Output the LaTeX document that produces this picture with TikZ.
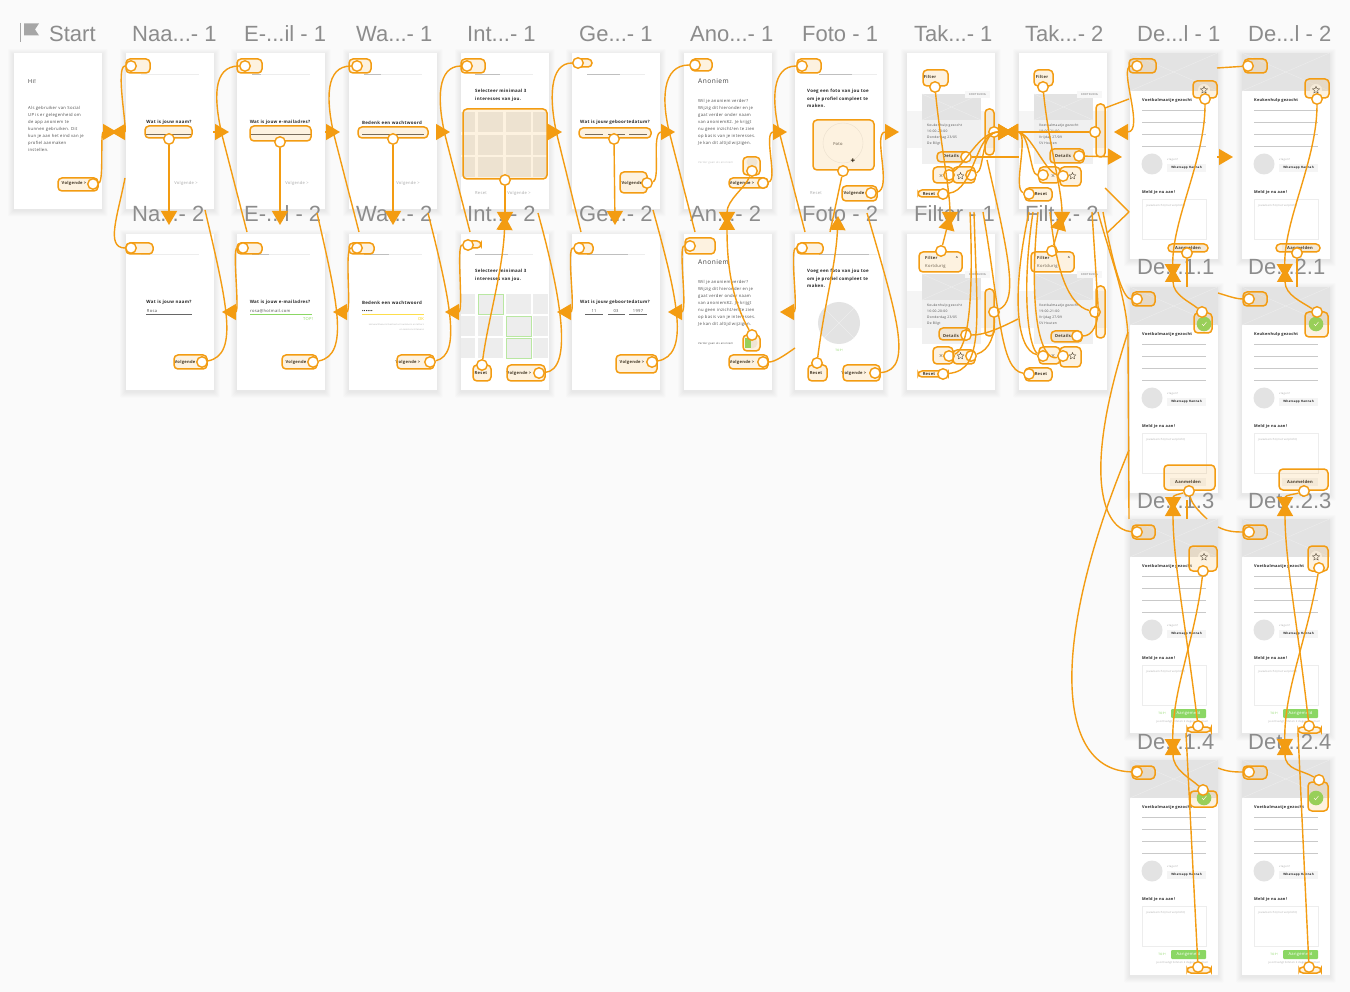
\documentclass[tikz,border=0pt]{standalone}
\usepackage{fontspec}
\setmainfont[LetterSpace=7]{Open Sans}
\newfontfamily\labelfont{Liberation Sans}
\usetikzlibrary{arrows.meta,shapes.geometric}
\definecolor{hot}{HTML}{F39C12}
\definecolor{paper}{HTML}{FAFAFA}
\definecolor{labelgray}{HTML}{8C8C8C}
\definecolor{imggray}{HTML}{E3E3E3}
\definecolor{imgline}{HTML}{EDEDED}
\definecolor{rulegray}{HTML}{C9C9C9}
\definecolor{okgreen}{HTML}{8BD764}
\definecolor{softtext}{HTML}{A8A8A8}
\newcommand{\dd}{...}
\tikzset{
  screen/.style={fill=white,anchor=north west,minimum width=87.5pt,inner sep=0pt,outer sep=0pt},
  title/.style={font=\labelfont\fontsize{22}{22}\selectfont,text=labelgray,anchor=base west,inner sep=0pt},
  qtext/.style={font=\bfseries\fontsize{4.4}{7.6}\selectfont,text=black!85,inner sep=0pt,align=left},
  jobtext/.style={font=\bfseries\fontsize{3.9}{5}\selectfont,text=black!85,inner sep=0pt,anchor=west},
  bodytext/.style={font=\fontsize{4.2}{7}\selectfont,text=black!70,inner sep=0pt,align=left,anchor=north west},
  softbtn/.style={font=\fontsize{4.1}{5}\selectfont,text=softtext,inner sep=0pt},
  btntext/.style={font=\bfseries\fontsize{4.1}{5}\selectfont,text=black!85,inner sep=0pt},
  cardtext/.style={font=\fontsize{3.3}{6}\selectfont,text=black!70,inner sep=0pt,align=left,anchor=north west},
  tinytext/.style={font=\fontsize{2.7}{4}\selectfont,text=softtext,inner sep=0pt},
  hotspot/.style={draw=hot,fill=hot,fill opacity=.13,line width=1.5pt,rounded corners=4pt,
    anchor=north west,inner sep=0pt,outer sep=0pt},
  dot/.style={circle,draw=hot,fill=white,line width=1.4pt,minimum size=10.5pt,inner sep=0pt},
  link/.style={draw=hot,line width=1.4pt},
  arrowlink/.style={link,-{Triangle[length=14pt,width=16pt]}},
}
% soft shadow under a screen: x, y, height
\newcommand{\softshadow}[3]{%
  \foreach \s in {1,2,3,4,5,6}{
    \fill[black,opacity=.011,rounded corners=1pt] (#1-\s,#2-\s+2) rectangle (#1+87.5+\s,#2+#3+\s+1.5);
  }
}
% one job screen, top left at #2,#3
\newcommand{\jobscreen}[6]{%
  \softshadow{#2}{#3}{#4}
  \node[screen,minimum height=#4] (#1) at (#2,#3) {};
  \begin{scope}[shift={(#2,#3)}]
    \fill[imggray] (0,0) rectangle (87.5,38);
    \draw[imgline,line width=.4pt] (0,0) -- (87.5,38) (0,38) -- (87.5,0);
    \node[jobtext] (#1title) at (12,47.5) {#5};
    \foreach \ly in {57,69,81,93}{\draw[rulegray,line width=.6pt] (12,\ly) -- (76,\ly);}
    \fill[imggray] (22,111) circle (10.5);
    \node[tinytext,anchor=west] (#1ask) at (37,107) {vragen?};
    \fill[black!4] (37,111) rectangle (76,119);
    \node[btntext,font=\bfseries\fontsize{3}{4}\selectfont] (#1app) at (56.5,115) {Whatsapp Hannah};
    \node[jobtext] (#1meld) at (12,139.5) {Meld je nu aan!};
    \draw[black!7,line width=.4pt] (12,146) rectangle (76,186);
    \node[tinytext,anchor=west] (#1msg) at (16,153) {jouw bericht (niet verplicht)};
    \ifnum#6=0
      \fill[black!4] (40,191) rectangle (76,199);
      \node[btntext] (#1send) at (58,195) {Aanmelden};
    \else
      \fill[okgreen,rounded corners=1pt] (41,190) rectangle (76,199);
      \node[btntext,text=white,font=\fontsize{4.1}{5}\selectfont] (#1send) at (58.5,194.5) {Aangemeld};
      \node[tinytext,text=okgreen,font=\fontsize{3}{4}\selectfont] (#1top) at (32,194.5) {TOP!};
      \node[tinytext] (#1note) at (52,203) {je ontvangt binnen 2 dagen een mail};
    \fi
  \end{scope}
}
% one overview screen with a card, content starts at #2,#3
\newcommand{\cardscreen}[6]{%
  \begin{scope}[shift={(#2,#3)}]
    \fill[black!4] (0,58) rectangle (87.5,95);
    \fill[black!6] (15,41) rectangle (74,111);
    \fill[imggray] (15,41) rectangle (74,67);
    \draw[imgline,line width=.4pt] (15,41) -- (74,67) (15,67) -- (74,41);
    \fill[black!3] (58,38) rectangle (83,45);
    \node[tinytext,text=black!60] (#1kind) at (70.5,42) {KORTDURIG};
    \node[cardtext] (#1card) at (20,70.5) {#4\\#5\\#6};
  \end{scope}
}
\begin{document}
\begin{tikzpicture}[x=1pt,y=-1pt]
  \useasboundingbox (0,0) rectangle (1350,992);
  \fill[paper] (0,0) rectangle (1350,992);

  % screens
  \foreach \n/\x/\y in {start/14/53,naam1/126/53,email1/237/53,wacht1/349/53,int1/461/53,ge1/572/53,ano1/684/53,foto1/795/53,tak1/907/53,tak2/1019/53,
    naam2/126/234,email2/237/234,wacht2/349/234,int2/461/234,ge2/572/234,ano2/684/234,foto2/795/234,filter1/907/234,filter2/1019/234}{
    \softshadow{\x}{\y}{156}
    \node[screen,minimum height=156pt] (\n) at (\x,\y) {};
  }
  \jobscreen{de1a}{1130}{53}{206}{Voetbalmaatje gezocht}{0}
  \jobscreen{de2a}{1242}{53}{206}{Keukenhulp gezocht}{0}
  \jobscreen{de1b}{1130}{287}{206}{Voetbalmaatje gezocht}{0}
  \jobscreen{de2b}{1242}{287}{206}{Keukenhulp gezocht}{0}
  \jobscreen{de1c}{1130}{519}{214}{Voetbalmaatje gezocht}{1}
  \jobscreen{de2c}{1242}{519}{214}{Voetbalmaatje gezocht}{1}
  \jobscreen{de1d}{1130}{760}{215}{Voetbalmaatje gezocht}{1}
  \jobscreen{de2d}{1242}{760}{215}{Voetbalmaatje gezocht}{1}

  % start screen
  \node[font=\fontsize{5.5}{6}\selectfont,text=black!80,inner sep=0pt,anchor=west] (hi) at (28,81.5) {Hi!};
  \node[bodytext] (intro) at (28,106) {Als gebruiker van Social\\UP is er gelegenheid om\\de app anoniem te\\kunnen gebruiken. Dit\\kun je aan het eind van je\\profiel aanmaken\\instellen.};
  \node[btntext] (startnext) at (74,183) {Volgende >};

  % progress lines
  \foreach \a/\x/\y/\w in {1/141/74/0,2/252/74/9,3/364/74/17,4/475/74/25,5/587/74/33,6/819/74/33,7/141/254/0,8/252/254/17,9/364/254/25,10/475/254/33,11/587/254/41,12/819/254/50}{
    \draw[black!7,line width=.6pt] (\x,\y) -- +(58,0);
    \draw[black!25,line width=.6pt] (\x,\y) -- +(\w,0);
  }

  % questions
  \foreach \n/\x/\y/\t in {q1/169/122.5/Wat is jouw naam?,q2/280/122.5/Wat is jouw e-mailadres?,q3/392/122.5/Bedenk een wachtwoord,q4/615/122.5/Wat is jouw geboortedatum?,
    q5/169/302.5/Wat is jouw naam?,q6/280/302.5/Wat is jouw e-mailadres?,q7/392/302.5/Bedenk een wachtwoord,q8/615/302.5/Wat is jouw geboortedatum?}{
    \node[qtext] (\n) at (\x,\y) {\t};
  }
  \node[qtext,anchor=north west] (q9) at (475,89) {Selecteer minimaal 3\\interesses van jou.};
  \node[qtext,anchor=north west] (q10) at (475,269) {Selecteer minimaal 3\\interesses van jou.};
  \node[qtext,anchor=north west] (q11) at (807,89) {Voeg een foto van jou toe\\om je profiel compleet te\\maken.};
  \node[qtext,anchor=north west] (q12) at (807,269) {Voeg een foto van jou toe\\om je profiel compleet te\\maken.};

  % input lines
  \foreach \xa/\xb/\y/\c in {146/192/134/black!60,250/311/134/black!60,362/424/134/black!60,585/603/134/black!60,608/625/134/black!60,629/647/134/black!60,
    146/192/314/black!60,250/312/314/okgreen,362/424/314/yellow!70!orange!70,585/603/314/black!60,608/625/314/black!60,629/647/314/black!60}{
    \draw[\c,line width=.5pt] (\xa,\y) -- (\xb,\y);
  }
  \node[softbtn,text=black!70] (inrosa) at (152,311) {Rosa};
  \node[softbtn,text=black!70,anchor=west] (inmail) at (250,311) {rosa@hotmail.com};
  \node[softbtn,text=okgreen] (intop) at (308,319) {TOP!};
  \node[btntext,anchor=west,font=\bfseries\fontsize{4}{5}\selectfont] (inpass) at (362,311) {••••••};
  \node[softbtn,text=yellow!70!orange] (inok) at (421,319) {OK};
  \node[tinytext,align=right,anchor=north east,font=\fontsize{2.2}{4.4}\selectfont] (inhint) at (424,324) {Het wachtwoord bestaat uit nummers en letters\\en minstens 8 tekens};
  \node[softbtn,text=black!70] (inday) at (594,311) {11};
  \node[softbtn,text=black!70] (inmonth) at (616,311) {03};
  \node[softbtn,text=black!70] (inyear) at (638,311) {1997};

  % soft next buttons
  \foreach \n/\x/\y/\t in {s1/186/183/Volgende >,s2/297/183/Volgende >,s3/408/183/Volgende >,s4/519/193/Volgende >,s5/481/193/Reset,s6/816/193/Reset}{
    \node[softbtn] (\n) at (\x,\y) {\t};
  }
  % strong next buttons
  \foreach \n/\x/\y/\t in {b1/632/183/Volgende,b2/742/183/Volgende >,b3/854/193/Volgende,b4/185/362/Volgende,b5/296/362/Volgende,b6/408/362/Volgende >,
    b7/519/373/Volgende >,b8/481/373/Reset,b9/632/362/Volgende >,b10/742/362/Volgende >,b11/854/373/Volgende >,b12/816/373/Reset}{
    \node[btntext] (\n) at (\x,\y) {\t};
  }

  % interests
  \foreach \a/\y in {1/112,2/135,3/157,4/294,5/316,6/338}{
    \foreach \xa/\xb in {461/475,478/503,506/531,533/548}{
      \fill[black!7] (\xa,\y) rectangle (\xb,\y+20);
    }
  }
  \foreach \xa/\xb/\y in {478/503/294,506/531/316,506/531/338}{
    \draw[okgreen!60,line width=.3pt] (\xa,\y) rectangle (\xb,\y+20);
  }

  % anoniem
  \foreach \n/\y/\c in {an1/53/black!25,an2/234/black!70}{
    \node[font=\fontsize{6.6}{7}\selectfont,text=black!75,anchor=west,inner sep=0pt] (\n head) at (698,\y+28.5) {Anoniem};
    \node[bodytext] (\n body) at (698,\y+46) {Wil je anoniem verder?\\Wijzig dit hieronder en je\\gaat verder onder naam\\van anoniem82. Je krijgt\\nu geen inzicht/en te zien\\op basis van je interesses.\\Je kan dit altijd wijzigen.};
    \node[tinytext,text=\c,anchor=west] (\n off) at (698,\y+110) {Verder gaan als anoniem};
    \fill[black!6] (752,\y+109) circle (5.5);
  }
  \fill[okgreen] (745,338) rectangle (751,348);

  % foto
  \draw[black!8,line width=.4pt] (843,143) circle (20);
  \node[softbtn,text=black!75] (fotoword) at (838,144) {Foto};
  \node[font=\bfseries\fontsize{8}{8}\selectfont,inner sep=0pt] (fotoplus) at (853,161) {+};
  \fill[imggray] (839,323) circle (21);
  \draw[imgline,line width=.4pt] (824,308) -- (854,338) (824,338) -- (854,308);
  \node[tinytext,text=okgreen,font=\fontsize{3}{4}\selectfont] (fototop) at (839,350) {TOP!};

  % overview screens
  \cardscreen{tak1}{907}{53}{Keukenhulp gezocht}{16:00-20:00}{Donderdag 23/05}
  \node[cardtext] (tak1place) at (927,141.5) {De Bilgt};
  \cardscreen{tak2}{1019}{53}{Voetbalmaatje gezocht}{19:00-21:00}{Vrijdag 27/09}
  \node[cardtext] (tak2place) at (1039,141.5) {SV Houten};
  \cardscreen{filter1}{907}{233}{Keukenhulp gezocht}{16:00-20:00}{Donderdag 23/05}
  \node[cardtext] (filter1place) at (927,321.5) {De Bilgt};
  \cardscreen{filter2}{1019}{233}{Voetbalmaatje gezocht}{19:00-21:00}{Vrijdag 27/09}
  \node[cardtext] (filter2place) at (1039,321.5) {SV Houten};
  \foreach \n/\x/\y in {a/907/53,b/1019/53,c/907/233,d/1019/233}{
    \node[btntext] (det\n) at (\x+44,\y+103) {Details};
    \node[font=\fontsize{7}{7}\selectfont,text=black!60,inner sep=0pt] (cross\n) at (\x+34,\y+123) {×};
    \node[star,star points=5,star point ratio=2.2,draw=black!80,line width=.35pt,minimum size=7pt,inner sep=0pt] (star\n) at (\x+53.5,\y+123) {};
    \node[btntext] (reset\n) at (\x+22,\y+141) {Reset};
  }
  \foreach \n/\x in {a/930,b/1042}{\node[btntext] (filt\n) at (\x,77) {Filter};}
  \foreach \n/\x in {c/931,d/1043}{
    \node[btntext,anchor=west] (filt\n) at (\x-6,258) {Filter};
    \node[softbtn,text=black!70,anchor=west] (kort\n) at (\x-6,266) {Kortdurig};
    \node[btntext] (chev\n) at (\x+26,258) {\^{}};
  }

  % job icons
  \foreach \n/\x/\y in {a/1204/90,b/1316/90,c/1204/557,d/1316/557}{
    \fill[white,opacity=.7] (\x,\y) circle (6);
    \node[star,star points=5,star point ratio=2.2,draw=black!80,line width=.35pt,minimum size=7.5pt,inner sep=0pt] (jobstar\n) at (\x,\y) {};
  }
  \foreach \x/\y in {1204/324,1316/324,1204/798,1316/798}{
    \fill[okgreen] (\x,\y) circle (7.3);
    \draw[white,line width=.5pt] (\x-2,\y) -- (\x-.5,\y+1.7) -- (\x+2.5,\y-2);
  }

  % titles
  \draw[black!35,line width=1pt] (20.5,23) -- (20.5,42);
  \fill[black!35] (24,23.5) -- (39,23.5) -- (35,29.5) -- (39,35.5) -- (24,35.5) -- cycle;
  \foreach \n/\x/\y/\t in {t1/49/41.5/Start,t2/132/41.5/Naa\dd- 1,t3/244/41.5/E-\dd il - 1,t4/356/41.5/Wa\dd- 1,t5/467/41.5/Int\dd- 1,t6/579/41.5/Ge\dd- 1,t7/690/41.5/Ano\dd- 1,t8/802/41.5/Foto - 1,t9/914/41.5/Tak\dd- 1,t10/1025/41.5/Tak\dd- 2,t11/1137/41.5/De\dd l - 1,t12/1248/41.5/De\dd l - 2,
    t13/132/222/Na\dd- 2,t14/244/222/E-\dd l - 2,t15/356/222/Wa\dd- 2,t16/467/222/Int\dd- 2,t17/579/222/Ge\dd- 2,t18/690/222/An\dd- 2,t19/802/222/Foto - 2,t20/914/222/Filter - 1,t21/1025/222/Filt\dd- 2,
    t22/1137/275/De\dd 1.1,t23/1248/275/De\dd 2.1,t24/1137/508/De\dd 1.3,t25/1248/508/Det\dd 2.3,t26/1137/749/De\dd 1.4,t27/1248/749/Det\dd 2.4}{
    \node[title] (\n) at (\x,\y) {\t};
  }

  % hotspots with their dots
  \foreach \n/\xa/\ya/\xb/\yb/\px/\py in {
    startnext/58/178/98/191/93/184,
    naamback/126/59/150/73/131/66,naamfield/145/126/192/138/169/139,
    mailback/237/59/262/73/245/66,mailfield/250/126/311/141/280/142,
    wachtback/349/59/371/73/357/66,wachtfield/358/127/428/138/393/139,
    intback/461/59/485/73/467/66,intgrid/463/109/547/179/505/180,
    geback/573/59/592/67/578/63,gefield/579/128/651/138/614/139,genext/620/172/647/193/647/183,
    anoback/691/59/712/71/695/65,anotoggle/743/157/760/175/752/171,anonext/729/178/768/188/763/183,
    fotoback/797/59/821/73/802/66,fotopic/813/120/874/170/843/171,fotonext/842/186/877/201/871/193,
    naamtwoback/126/243/153/254/131/248,naamtwonext/174/355/207/369/202/362,
    mailtwoback/237/243/262/254/243/248,mailtwonext/282/355/317/369/313/362,
    wachttwoback/349/243/374/254/357/248,wachttwonext/397/355/434/369/430/362,
    inttwoback/468/241/481/248/468/245,inttworeset/473/365/491/381/482/365,inttwonext/507/365/545/381/539/373,
    getwoback/575/243/593/254/579/248,getwonext/616/355/657/373/652/362,
    anotwoback/685/238/715/254/690/246,anotwotoggle/743/335/760/351/752/335,anotwonext/729/355/768/369/763/362,
    fototwoback/797/243/823/254/802/248,fototworeset/808/365/827/381/817/363,fototwonext/843/365/880/381/875/373,
    takafilter/923/70/948/86/935/87,takacard/985/109/994/155/994/132,takadetails/937/152/970/162/966/157,takax/933/167/953/183/949/175,takastar/953/167/975/183/971/175,takareset/918/190/948/197/943/194,
    takbfilter/1034/70/1053/86/1043/87,takbcard/1096/104/1105/157/1095/132,takbdetails/1050/149/1084/163/1079/156,takbx/1039/167/1060/183/1043/175,takbstar/1060/167/1081/186/1063/176,takbreset/1025/188/1052/201/1029/194,
    fileafilter/919/252/962/272/941/251,fileacard/985/289/994/336/994/312,fileadetails/939/328/970/340/966/335,fileax/933/347/953/364/949/356,fileastar/953/350/975/364/971/356,fileareset/918/371/948/377/943/374,
    filebfilter/1031/252/1074/272/1052/251,filebcard/1096/286/1105/338/1095/312,filebdetails/1051/331/1082/342/1077/336,filebx/1039/347/1060/364/1043/356,filebstar/1060/347/1081/367/1063/356,filebreset/1025/368/1052/381/1029/374,
    deaback/1129/59/1156/73/1137/66,deastar/1193/81/1217/98/1205/99,deasend/1168/244/1208/252/1187/253,
    dbaback/1244/59/1267/73/1248/66,dbastar/1305/79/1329/98/1317/99,dbasend/1276/244/1320/252/1297/253,
    debback/1132/292/1155/306/1137/299,debcheck/1194/313/1212/333/1202/312,debsend/1164/465/1215/490/1189/491,
    dbbback/1243/292/1267/306/1249/299,dbbcheck/1305/312/1328/337/1317/312,dbbsend/1279/469/1328/490/1304/491,
    decback/1132/525/1155/539/1137/532,decstar/1189/546/1217/571/1203/571,decsend/1187/727/1211/732/1198/726,
    dbcback/1243/525/1267/539/1249/532,dbcstar/1308/546/1328/571/1319/568,dbcsend/1298/727/1321/733/1309/726,
    dedback/1132/766/1155/779/1137/772,dedcheck/1190/791/1217/807/1203/790,dedsend/1187/967/1211/973/1198/967,
    dbdback/1243/766/1267/779/1249/772,dbdcheck/1308/782/1328/811/1319/780,dbdsend/1299/967/1321/973/1309/967}{
    \node[hotspot,minimum width=\xb-\xa,minimum height=\yb-\ya] (h\n) at (\xa,\ya) {};
    \node[dot] (d\n) at (\px,\py) {};
  }

  % free ends and arrow tips
  \foreach \n/\x/\y in {
    tostart/111/132,tonaam/117/132,tomail/229/132,towacht/340/132,toint/450/132,toge/562/132,toano/675/132,tofoto/787/132,totak/899/132,
    backnaam/222/312,backmail/333/312,backwacht/445/312,backint/557/312,backge/668/312,backano/780/312,
    downnaam/169/225,downmail/280/225,downwacht/393/225,downint/505/226,downge/615/225,downano/727/226,downfoto/830/232,downfilea/950/226,downfileb/1062/226,
    upint/505/216,upano/727/216,upfoto/838/216,upfilea/950/216,upfileb/1062/216,
    stubnaam/213/132,stubmail/325/132,stubwacht/436/132,stubint/548/132,
    stubdea/1217/157,todeb/1233/157,
    hideb/247/232,hidec/359/232,hided/470/232,hidee/581/232,hidef/695/232,hideg/805/232,
    naamup/205/210,mailup/317/213,wachtup/428/213,intup/538/213,geup/653/210,fotoup/867/213,anoout/795/348,
    tonext/1122/157,totakb/1114/132,takaright/1012/132,takbleft/1004/132,filemid/1018/319,
    upcarda/987/160,upxa/970/212,upresa/974/212,upresb/983/212,upxb/1029/212,upxc/1033/212,upstarb/1038/212,upcardb/1050/212,updetb/1092/212,
    deaside/1217/68,debside/1218/293,decside/1218/527,dedside/1218/768,
    yb/1129/212,yc/1105/188,yd/1107/233,yf/1129/99,ye/1105/108,
    loopa/1103/212,loopb/1128/332,loopc/1129/450,wallt/1098/212,wallb/1129/519,
    uptoa/1173/278,upfroma/1173/268,downb/1173/511,upb/1173/502,downc/1173/753,upc/1173/741,
    uptob/1285/278,upfromb/1285/268,downd/1285/511,upd/1285/502,downe/1285/753,upe/1285/741,
    stuba/1187/287,stubb/1297/287,stubc/1207/519,stubf/1187/519,stubg/1187/500,stubd/1186/733,stube/1298/733}{
    \coordinate (\n) at (\x,\y);
  }

  % row one forward
  \draw[arrowlink] (dstartnext) .. controls (104,182) and (100,132) .. (tonaam);
  \draw[arrowlink] (dnaamback) .. controls (115,66) and (128,132) .. (tostart);
  \draw[link] (dnaamtwoback) .. controls (105,248) and (118,215) .. (125,178);
  \draw[arrowlink] (stubnaam) -- (tomail);
  \draw[arrowlink] (stubmail) -- (towacht);
  \draw[arrowlink] (stubwacht) -- (toint);
  \draw[arrowlink] (stubint) -- (toge);
  \draw[arrowlink] (dgenext) .. controls (661,180) and (651,132) .. (toano);
  \draw[arrowlink] (danonext) .. controls (778,180) and (763,132) .. (tofoto);
  \draw[arrowlink] (dfotonext) .. controls (893,190) and (872,132) .. (totak);

  % row one back
  \draw[link] (dmailback) .. controls (212,66) and (214,100) .. (222,135) -- (hideb);
  \draw[link] (dwachtback) .. controls (325,66) and (326,100) .. (334,135) -- (hidec);
  \draw[link] (dintback) .. controls (437,66) and (437,100) .. (445,135) -- (hided);
  \draw[link] (dgeback) .. controls (549,63) and (549,100) .. (557,135) -- (hidee);
  \draw[link] (danoback) .. controls (662,65) and (661,100) .. (670,135) -- (hidef);
  \draw[link] (dfotoback) .. controls (772,66) and (771,100) .. (780,135) -- (hideg);

  % field to second screen
  \foreach \a/\b in {naamfield/downnaam,mailfield/downmail,wachtfield/downwacht,gefield/downge,intgrid/downint}{
    \draw[arrowlink] (d\a) -- (\b);
  }
  \draw[arrowlink] (danotoggle) .. controls (745,188) and (727,200) .. (downano);
  \draw[link] (dfotopic) -- (downfoto);
  \draw[arrowlink] (dtakafilter) .. controls (940,140) and (950,190) .. (downfilea);
  \draw[arrowlink] (dtakbfilter) .. controls (1048,140) and (1062,190) .. (downfileb);

  % row two up
  \draw[arrowlink] (dinttworeset) .. controls (488,320) and (503,270) .. (upint);
  \draw[arrowlink] (danotwotoggle) .. controls (735,305) and (727,275) .. (upano);
  \draw[arrowlink] (dfototworeset) .. controls (825,300) and (836,265) .. (upfoto);
  \draw[arrowlink] (dfileafilter) -- (upfilea);
  \draw[arrowlink] (dfilebfilter) -- (upfileb);

  % row two next, going up behind the first row
  \draw[link] (dnaamtwonext) .. controls (240,355) and (226,300) .. (naamup);
  \draw[link] (dmailtwonext) .. controls (350,355) and (337,300) .. (mailup);
  \draw[link] (dwachttwonext) .. controls (462,355) and (450,300) .. (wachtup);
  \draw[link] (dinttwonext) .. controls (573,370) and (562,300) .. (intup);
  \draw[link] (dgetwonext) .. controls (690,355) and (678,300) .. (geup);
  \draw[link] (dfototwonext) .. controls (915,370) and (895,310) .. (fotoup);
  \draw[link] (danotwonext) .. controls (775,362) and (785,355) .. (anoout);

  % row two back
  \draw[arrowlink] (dmailtwoback) .. controls (232,248) and (240,312) .. (backnaam);
  \draw[arrowlink] (dwachttwoback) .. controls (344,248) and (352,312) .. (backmail);
  \draw[arrowlink] (dinttwoback) .. controls (456,245) and (464,312) .. (backwacht);
  \draw[arrowlink] (dgetwoback) .. controls (566,248) and (576,312) .. (backint);
  \draw[arrowlink] (danotwoback) .. controls (678,246) and (688,312) .. (backge);
  \draw[arrowlink] (dfototwoback) .. controls (789,248) and (799,312) .. (backano);

  % overview
  \draw[arrowlink] (dtakacard) -- (takaright);
  \draw[arrowlink] (dtakbcard) -- (takbleft);
  \draw[arrowlink] (dtakax) .. controls (968,160) and (980,132) .. (takaright);
  \draw[arrowlink] (dtakastar) .. controls (985,170) and (980,132) .. (takaright);
  \draw[arrowlink] (dtakareset) .. controls (975,190) and (975,132) .. (takaright);
  \draw[arrowlink] (dtakbx) .. controls (1030,175) and (1030,132) .. (takbleft);
  \draw[arrowlink] (dtakbstar) .. controls (1045,172) and (1030,132) .. (takbleft);
  \draw[arrowlink] (dtakbreset) .. controls (1012,190) and (1030,132) .. (takbleft);
  \draw[link] (dtakadetails) -- (1019,157);
  \draw[arrowlink] (dtakbdetails) -- (tonext);
  \draw[link] (dfileadetails) .. controls (985,335) and (1000,328) .. (filemid);
  \draw[link] (dfileacard) .. controls (1018,300) and (1010,260) .. (upcarda);
  \draw[link] (dfileastar) .. controls (990,350) and (995,335) .. (dfileacard);
  \draw[link] (dfileax) .. controls (968,350) and (974,300) .. (upxa);
  \draw[link] (dfileareset) .. controls (985,370) and (977,320) .. (upresa);
  \draw[link] (dfilebreset) .. controls (1000,370) and (1000,310) .. (upresb);
  \draw[link] (dfilebx) .. controls (1015,350) and (1012,290) .. (upxb);
  \draw[link] (dfilebx) .. controls (1030,350) and (1020,300) .. (upxc);
  \draw[link] (dfilebstar) .. controls (1040,362) and (1028,310) .. (upstarb);
  \draw[link] (dfilebcard) .. controls (1068,305) and (1056,270) .. (upcardb);
  \draw[link] (dfilebdetails) .. controls (1092,336) and (1099,325) .. (1098,305) -- (updetb);

  % job detail, first column
  \draw[arrowlink] (ddeaback) .. controls (1118,66) and (1145,132) .. (totakb);
  \draw[arrowlink] (stubdea) -- (todeb);
  \draw[link] (ye) -- (yf);
  \draw[link] (yc) -- (yb);
  \draw[link] (yd) -- (yb);
  \draw[link] (wallt) .. controls (1108,250) and (1128,300) .. (1128,340) -- (wallb);
  \draw[link] (ddebback) .. controls (1122,299) and (1112,260) .. (loopa);
  \draw[link] (ddecback) .. controls (1105,530) and (1080,480) .. (loopb);
  \draw[link] (ddedback) .. controls (1055,770) and (1050,640) .. (loopc);
  \draw[arrowlink] (ddeastar) .. controls (1205,160) and (1172,220) .. (uptoa);
  \draw[arrowlink] (ddebcheck) .. controls (1190,302) and (1173,295) .. (upfroma);
  \draw[link] (ddeasend) -- (stuba);
  \draw[arrowlink] (ddebsend) .. controls (1180,494) and (1173,495) .. (downb);
  \draw[link] (ddebsend) .. controls (1192,505) and (1200,512) .. (stubc);
  \draw[link] (stubg) -- (stubf);
  \draw[arrowlink] (ddecsend) .. controls (1185,620) and (1173,560) .. (upb);
  \draw[arrowlink] (ddecstar) .. controls (1195,640) and (1172,690) .. (downc);
  \draw[arrowlink] (ddedcheck) .. controls (1190,778) and (1173,770) .. (upc);
  \draw[link] (ddedsend) -- (stubd);

  % job detail, second column
  \draw[link] (ddbaback) -- (deaside);
  \draw[link] (ddbbback) .. controls (1236,299) and (1228,296) .. (debside);
  \draw[link] (ddbcback) .. controls (1236,532) and (1228,532) .. (decside);
  \draw[link] (ddbdback) .. controls (1236,772) and (1228,772) .. (dedside);
  \draw[arrowlink] (ddbastar) .. controls (1317,160) and (1284,220) .. (uptob);
  \draw[arrowlink] (ddbbcheck) .. controls (1302,302) and (1285,295) .. (upfromb);
  \draw[link] (ddbasend) -- (stubb);
  \draw[arrowlink] (ddbbsend) .. controls (1296,494) and (1285,495) .. (downd);
  \draw[arrowlink] (ddbcsend) .. controls (1297,620) and (1285,560) .. (upd);
  \draw[arrowlink] (ddbcstar) .. controls (1307,640) and (1284,690) .. (downe);
  \draw[arrowlink] (ddbdcheck) .. controls (1302,770) and (1285,770) .. (upe);
  \draw[link] (ddbdsend) -- (stube);
\end{tikzpicture}
\end{document}
